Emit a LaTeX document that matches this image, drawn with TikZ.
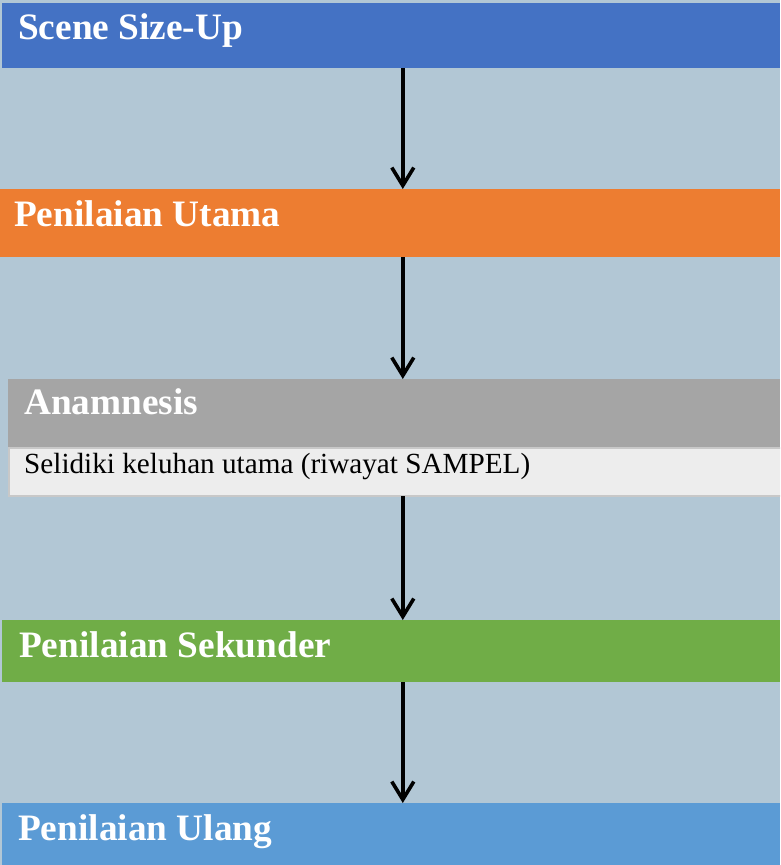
\documentclass[tikz,border=0pt]{standalone}
\usepackage{fontspec}
\setmainfont{Liberation Serif}
\usetikzlibrary{arrows.meta}
\definecolor{bgc}{HTML}{B2C7D5}
\definecolor{cblue}{HTML}{4472C4}
\definecolor{corange}{HTML}{ED7D31}
\definecolor{cgray}{HTML}{A5A5A5}
\definecolor{clight}{HTML}{EDEDED}
\definecolor{cborder}{HTML}{C8C8C8}
\definecolor{cgreen}{HTML}{70AD47}
\definecolor{clblue}{HTML}{5B9BD5}
\tikzset{
  bar/.style={rectangle, draw=none, inner sep=0pt, outer sep=0pt, anchor=north west, minimum width=#1},
  bar/.default=778pt,
  ttl/.style={inner sep=0pt, anchor=base west, text=white, font=\fontsize{37.3}{40}\selectfont\bfseries},
  body/.style={inner sep=0pt, anchor=base west, text=black, font=\fontsize{29.2}{32}\selectfont},
  arr/.style={draw=black, line width=3.6pt, -{Straight Barb[length=18pt, width=22pt, line width=3.6pt]}}
}
\begin{document}
\begin{tikzpicture}[x=1pt,y=1pt]
\useasboundingbox (0,0) rectangle (780,-865);
\begin{scope}
\clip (0,0) rectangle (780,-865);
\fill[bgc] (0,0) rectangle (780,-865);
% bars
\node[bar, fill=cblue, minimum height=65pt] (b1) at (2,-3) {};
\node[bar=780pt, fill=corange, minimum height=68pt] (b2) at (0,-189) {};
\node[bar=772pt, fill=cgray, minimum height=68pt] (b3) at (8,-379) {};
\node[bar=780pt, fill=clight, draw=cborder, line width=2pt, minimum height=48pt, anchor=north west] (b3d) at (9,-448) {};
\fill[cgray] (8,-379) rectangle (780,-447);
\node[bar, fill=cgreen, minimum height=62pt] (b4) at (2,-620) {};
\node[bar, fill=clblue, minimum height=62pt] (b5) at (2,-803) {};
\end{scope}
% texts
\node[ttl] (t1) at (18,-39) {Scene Size-Up};
\node[ttl] (t2) at (14,-226) {Penilaian Utama};
\node[ttl] (t3) at (24,-414) {Anamnesis};
\node[body] (t3d) at (24,-473) {Selidiki keluhan utama (riwayat SAMPEL)};
\node[ttl] (t4) at (19,-657) {Penilaian Sekunder};
\node[ttl] (t5) at (18,-840) {Penilaian Ulang};
% arrows
\coordinate (ax) at (402.8,0);
\draw[arr] (b1.south -| ax) -- (b2.north -| ax);
\draw[arr] (b2.south -| ax) -- (b3.north -| ax);
\draw[arr] (b3d.south -| ax) -- (b4.north -| ax);
\draw[arr] (b4.south -| ax) -- (b5.north -| ax);
\end{tikzpicture}
\end{document}
